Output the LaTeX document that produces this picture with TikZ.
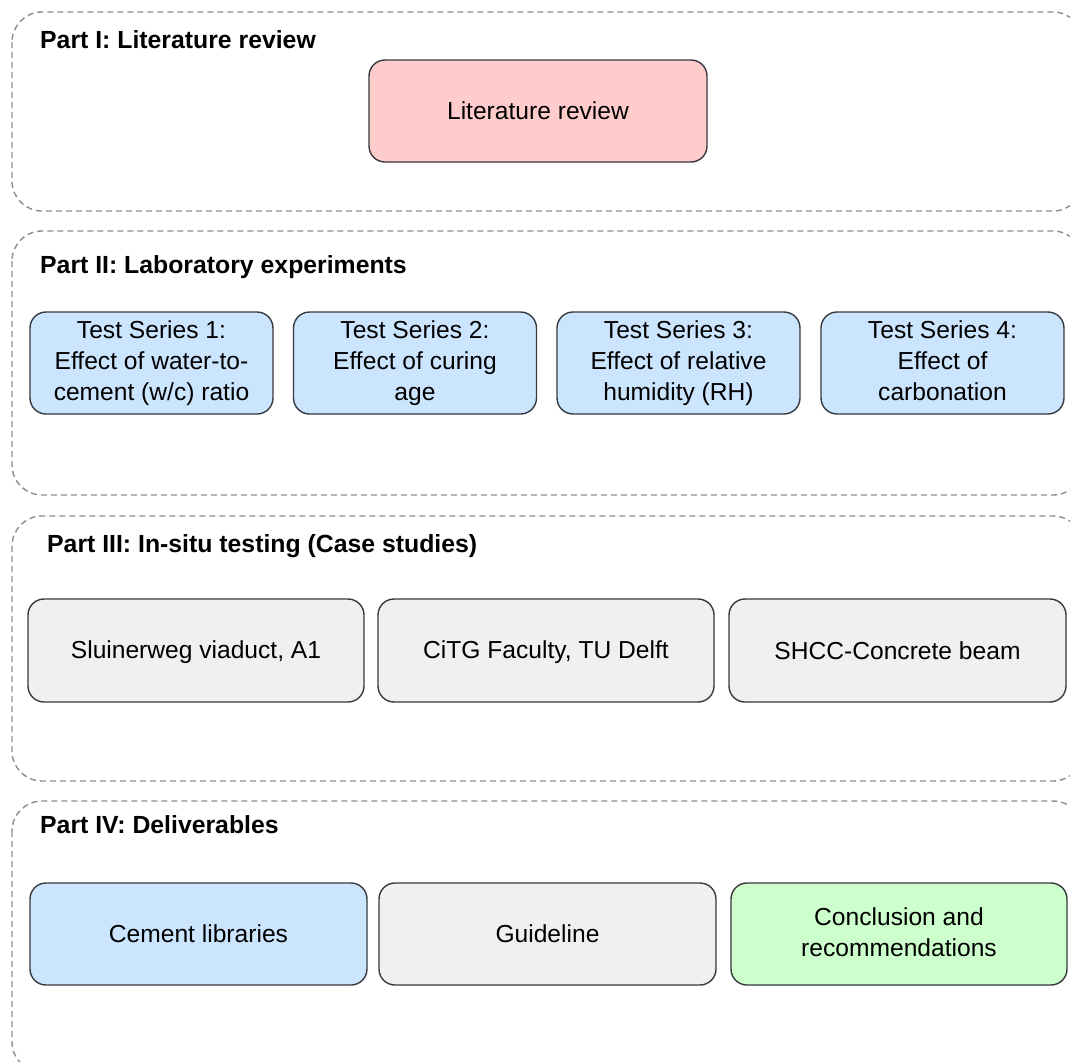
\documentclass[tikz,border=0pt]{standalone}
\usepackage{fontspec}
\setmainfont{Liberation Sans}
\definecolor{partgray}{HTML}{8C8C8C}
\definecolor{boxline}{HTML}{36393D}
\definecolor{fillpink}{HTML}{FFCCCC}
\definecolor{fillblue}{HTML}{CCE5FF}
\definecolor{fillgray}{HTML}{F0F0F0}
\definecolor{fillgreen}{HTML}{CCFFCC}
\newcommand\diagbody{\fontsize{24.6}{31}\selectfont}
\newcommand\diagtitle{\fontsize{24.8}{30}\selectfont\bfseries}
% strut that keeps the capitals of every label centred in its box
\newcommand\capstrut{\rule[-4.4pt]{0pt}{26.4pt}}
\begin{document}
\begin{tikzpicture}[x=1pt,y=-1pt,
  partframe/.style={draw=partgray, line width=1.4pt, dash pattern=on 6pt off 4pt, rounded corners=30pt},
  stepbox/.style={draw=boxline, line width=1.4pt, rounded corners=16pt, align=center,
    inner sep=0pt, font=\diagbody, text=black,
    execute at begin node=\capstrut, execute at end node=\capstrut},
  parttitle/.style={anchor=base west, inner sep=0pt, font=\diagtitle, text=black}]
\useasboundingbox (0,0) rectangle (1070,1061);
\clip (0,0) rectangle (1070,1061);

% dashed frames of the four parts
\draw[partframe] (12,12) rectangle (1083,211);
\draw[partframe] (12,231) rectangle (1083,495);
\draw[partframe] (12,516) rectangle (1083,781);
\draw[partframe] (12,801) rectangle (1083,1072);

% part titles
\node[parttitle] (t1) at (40,48) {Part I: Literature review};
\node[parttitle] (t2) at (40,273) {Part II: Laboratory experiments};
\node[parttitle] (t3) at (47,552) {Part III: In-situ testing (Case studies)};
\node[parttitle] (t4) at (40,833) {Part IV: Deliverables};

% Part I
\node[stepbox, fill=fillpink, minimum width=338, minimum height=102] (lit) at (538,111) {Literature review};

% Part II
\foreach \cx/\name/\txt in {
  151.5/ts1/{Test Series 1:\\Effect of water-to-\\cement (w/c) ratio},
  415/ts2/{Test Series 2:\\Effect of curing\\age},
  678.5/ts3/{Test Series 3:\\Effect of relative\\humidity (RH)},
  942.5/ts4/{Test Series 4:\\Effect of\\carbonation}}
  \node[stepbox, fill=fillblue, minimum width=243, minimum height=102] (\name) at (\cx,363) {\txt};

% Part III
\node[stepbox, fill=fillgray, minimum width=336, minimum height=103] (cs1) at (196,650.5) {Sluinerweg viaduct, A1};
\node[stepbox, fill=fillgray, minimum width=336, minimum height=103] (cs2) at (546,650.5) {CiTG Faculty, TU Delft};
\node[stepbox, fill=fillgray, minimum width=337, minimum height=103] (cs3) at (897.5,650.5) {SHCC-Concrete beam};

% Part IV
\node[stepbox, fill=fillblue, minimum width=337, minimum height=102] (d1) at (198.5,934) {Cement libraries};
\node[stepbox, fill=fillgray, minimum width=337, minimum height=102] (d2) at (547.5,934) {Guideline};
\node[stepbox, fill=fillgreen, minimum width=336, minimum height=102] (d3) at (899,934) {Conclusion and\\recommendations};
\end{tikzpicture}
\end{document}
